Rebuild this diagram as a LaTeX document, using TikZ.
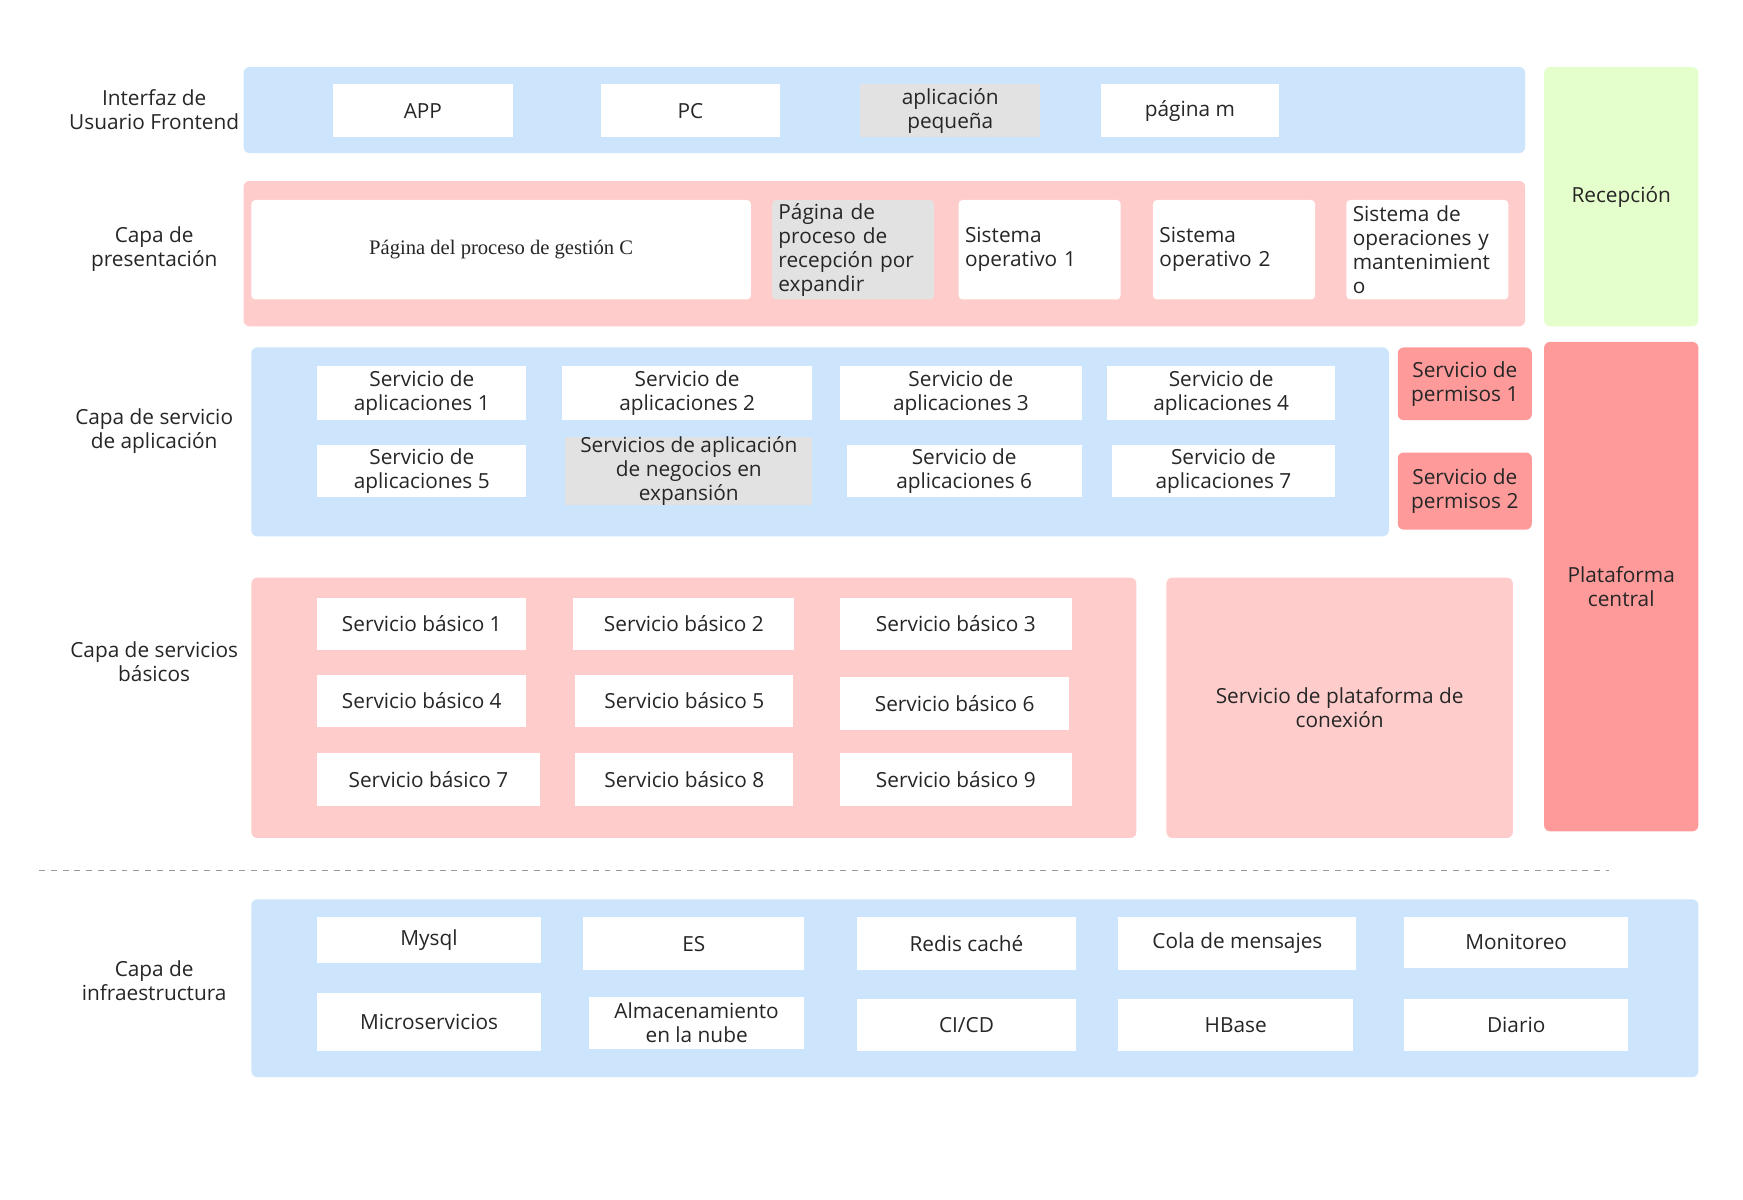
\documentclass[tikz,border=0pt]{standalone}
\usepackage{fontspec}
\setmainfont{Open Sans}
\newfontfamily\serifc{Liberation Serif}
\usetikzlibrary{positioning}
\definecolor{bandblue}{HTML}{CCE4FC}
\definecolor{bandpink}{HTML}{FFCCCC}
\definecolor{salmon}{HTML}{FF9A9A}
\definecolor{mint}{HTML}{E5FFCC}
\definecolor{cellgray}{HTML}{E2E2E2}
\definecolor{ink}{HTML}{262626}
\tikzset{
  band/.style={draw=none,rounded corners=3pt,inner sep=0pt},
  cell/.style={draw=none,fill=white,inner sep=0pt,align=center,text=ink,font=\fontsize{10.6}{12.2}\selectfont},
  grey/.style={fill=cellgray},
  lefty/.style={align=left,text width=76pt},
  side/.style={align=center,text=ink,font=\fontsize{10.6}{12.2}\selectfont}
}
% corner-to-corner boxes in pixel units
\newcommand\blk[7][]{\node[cell,#1,minimum width={(#4-#2)*0.2mm},minimum height={(#5-#3)*0.2mm}] (#6) at ({(#2+#4)/2},{(#3+#5)/2}) {#7};}
\begin{document}
\begin{tikzpicture}[x=0.2mm,y=-0.2mm]
\useasboundingbox[fill=white] (0,0) rectangle (1560,1074);

% bands
\blk[band,fill=bandblue]{218}{60}{1365}{137}{front}{}
\blk[band,fill=mint]{1382}{60}{1520}{292}{recep}{Recepción}
\blk[band,fill=bandpink]{218}{162}{1365}{292}{pres}{}
\blk[band,fill=bandblue]{225}{311}{1243}{480}{appsvc}{}
\blk[band,fill=salmon]{1251}{311}{1371}{376}{perm1}{Servicio de\\permisos 1}
\blk[band,fill=salmon]{1251}{405}{1371}{474}{perm2}{Servicio de\\permisos 2}
\blk[band,fill=salmon]{1382}{306}{1520}{744}{central}{Plataforma\\central}
\blk[band,fill=bandpink]{225}{517}{1017}{750}{basic}{}
\blk[band,fill=bandpink]{1044}{517}{1354}{750}{conex}{Servicio de plataforma de\\conexión}
\blk[band,fill=bandblue]{225}{805}{1520}{964}{infra}{}

% layer names
\node[side] (lfront) at (138,98) {Interfaz de\\Usuario Frontend};
\node[side] (lpres) at (138,223) {Capa de\\presentación};
\node[side] (lapp) at (138,386) {Capa de servicio\\de aplicación};
\node[side] (lbasic) at (138,592) {Capa de servicios\\básicos};
\node[side] (linfra) at (138,878) {Capa de\\infraestructura};

% frontend
\blk{298}{75}{459}{123}{app}{APP}
\blk{538}{75}{698}{123}{pc}{PC}
\blk[grey]{770}{75}{931}{123}{mini}{aplicación\\pequeña}
\blk{985}{75}{1145}{123}{pagm}{página m}

% presentation
\blk[rounded corners=2pt,font=\serifc\fontsize{10.5}{13}\selectfont]{225}{179}{672}{268}{gestc}{Página del proceso de gestión C}
\blk[grey,rounded corners=2pt,lefty]{691}{179}{836}{268}{recexp}{Página de\\proceso de\\recepción por\\expandir}
\blk[rounded corners=2pt,lefty]{858}{179}{1003}{268}{so1}{Sistema\\operativo 1}
\blk[rounded corners=2pt,lefty]{1032}{179}{1177}{268}{so2}{Sistema\\operativo 2}
\blk[rounded corners=2pt,lefty]{1205}{179}{1350}{268}{opman}{Sistema de\\operaciones y\\mantenimient\\o}

% application services
\blk{284}{328}{471}{376}{ap1}{Servicio de\\aplicaciones 1}
\blk{503}{328}{727}{376}{ap2}{Servicio de\\aplicaciones 2}
\blk{752}{328}{968}{376}{ap3}{Servicio de\\aplicaciones 3}
\blk{991}{328}{1195}{376}{ap4}{Servicio de\\aplicaciones 4}
\blk{284}{398}{471}{445}{ap5}{Servicio de\\aplicaciones 5}
\blk[grey]{506}{398}{727}{445}{apexp}{Servicios de aplicación\\de negocios en\\expansión}
\blk{758}{398}{968}{445}{ap6}{Servicio de\\aplicaciones 6}
\blk{995}{398}{1195}{445}{ap7}{Servicio de\\aplicaciones 7}

% basic services
\blk{284}{535}{471}{582}{b1}{Servicio básico 1}
\blk{513}{535}{711}{582}{b2}{Servicio básico 2}
\blk{752}{535}{959}{582}{b3}{Servicio básico 3}
\blk{284}{604}{471}{651}{b4}{Servicio básico 4}
\blk{515}{604}{710}{651}{b5}{Servicio básico 5}
\blk{752}{606}{957}{653}{b6}{Servicio básico 6}
\blk{284}{674}{483}{721}{b7}{Servicio básico 7}
\blk{515}{674}{710}{721}{b8}{Servicio básico 8}
\blk{752}{674}{959}{721}{b9}{Servicio básico 9}

\draw[dashed,draw=gray!80] (35,779) -- (1440,779);

% infrastructure
\blk{284}{821}{484}{862}{mysql}{Mysql}
\blk{522}{821}{720}{868}{es}{ES}
\blk{767}{821}{963}{868}{redis}{Redis caché}
\blk{1001}{821}{1214}{868}{cola}{Cola de mensajes}
\blk{1257}{821}{1457}{866}{monit}{Monitoreo}
\blk{284}{889}{484}{941}{micro}{Microservicios}
\blk{527}{892}{720}{939}{nube}{Almacenamiento\\en la nube}
\blk{767}{894}{963}{941}{cicd}{CI/CD}
\blk{1001}{894}{1211}{941}{hbase}{HBase}
\blk{1257}{894}{1457}{941}{diario}{Diario}
\end{tikzpicture}
\end{document}
